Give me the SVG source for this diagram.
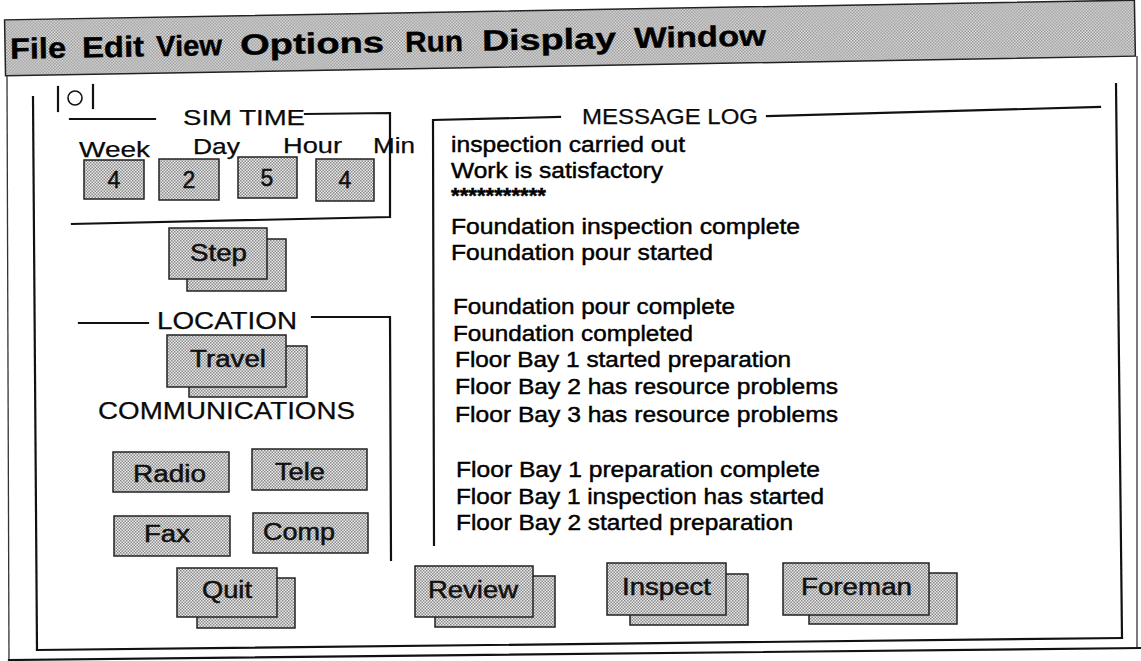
<svg xmlns="http://www.w3.org/2000/svg" width="1141" height="661" viewBox="0 0 1141 661">
<defs>
<pattern id="ht" width="3" height="3" patternUnits="userSpaceOnUse">
<rect width="3" height="3" fill="#ececec"/>
<rect x="0" y="0" width="1.5" height="1.5" fill="#888"/>
<rect x="1.5" y="1.5" width="1.5" height="1.5" fill="#888"/>
</pattern>
<style>
.ln{stroke:#111;stroke-width:2.2;fill:none;stroke-linecap:square}
.thin{stroke:#333;stroke-width:1.3;fill:none}
.btn{fill:url(#ht);stroke:#222;stroke-width:1.5}
.t{font-family:"Liberation Sans",Arial,sans-serif;fill:#0a0a0a;stroke:#0a0a0a;stroke-width:0.25}
.menu{font-family:"Liberation Sans",Arial,sans-serif;font-weight:bold;font-size:29px;fill:#000;stroke:#000;stroke-width:0.4}
.log{font-family:"Liberation Sans",Arial,sans-serif;font-size:22.5px;fill:#000;stroke:#000;stroke-width:0.45}
.bt{font-family:"Liberation Sans",Arial,sans-serif;font-size:23px;fill:#111;stroke:#111;stroke-width:0.5}
</style>
</defs>
<rect width="1141" height="661" fill="#fff"/>

<g id="menubar" transform="rotate(-1 570 40)">
<rect x="5" y="10" width="1130" height="56" class="btn"/>
<text class="menu" x="10" y="49" textLength="56" lengthAdjust="spacingAndGlyphs">File</text>
<text class="menu" x="82" y="49" textLength="62" lengthAdjust="spacingAndGlyphs">Edit</text>
<text class="menu" x="156" y="49" textLength="66" lengthAdjust="spacingAndGlyphs">View</text>
<text class="menu" x="240" y="49" textLength="144" lengthAdjust="spacingAndGlyphs">Options</text>
<text class="menu" x="405" y="49" textLength="58" lengthAdjust="spacingAndGlyphs">Run</text>
<text class="menu" x="482" y="49" textLength="134" lengthAdjust="spacingAndGlyphs">Display</text>
<text class="menu" x="634" y="49" textLength="132" lengthAdjust="spacingAndGlyphs">Window</text>
</g>

<g id="window-frame">
<line class="thin" x1="7" y1="76" x2="9" y2="661"/>
<line class="thin" x1="1137" y1="56" x2="1137" y2="648"/>
<line class="ln" x1="9" y1="660" x2="1141" y2="648"/>
</g>

<g id="panel-frame">
<line class="ln" x1="33" y1="97" x2="37" y2="650"/>
<line class="ln" x1="37" y1="650" x2="1122" y2="638"/>
<line class="ln" x1="1122" y1="638" x2="1116" y2="84"/>
</g>

<g id="icon">
<line class="ln" x1="58" y1="87" x2="58" y2="111"/>
<circle cx="75" cy="98" r="7" fill="none" stroke="#111" stroke-width="1.6"/>
<line class="ln" x1="93" y1="85" x2="93" y2="108"/>
</g>

<g id="simtime">
<line class="ln" x1="70" y1="119" x2="155" y2="119"/>
<text class="t" x="183" y="125" font-size="22" textLength="122" lengthAdjust="spacingAndGlyphs">SIM TIME</text>
<polyline class="ln" points="305,114 390,113 390,217 72,224"/>
<text class="t" x="79" y="157" font-size="22" textLength="71" lengthAdjust="spacingAndGlyphs">Week</text>
<text class="t" x="193" y="154" font-size="22" textLength="47" lengthAdjust="spacingAndGlyphs">Day</text>
<text class="t" x="283" y="153" font-size="22" textLength="59" lengthAdjust="spacingAndGlyphs">Hour</text>
<text class="t" x="373" y="153" font-size="22" textLength="42" lengthAdjust="spacingAndGlyphs">Min</text>
<g id="week-val"><rect class="btn" x="84" y="160" width="60" height="39"/><text class="bt" x="114" y="188" font-size="25" text-anchor="middle">4</text></g>
<g id="day-val"><rect class="btn" x="159" y="159" width="60" height="41"/><text class="bt" x="189" y="188" font-size="25" text-anchor="middle">2</text></g>
<g id="hour-val"><rect class="btn" x="238" y="157" width="59" height="41"/><text class="bt" x="267" y="186" font-size="25" text-anchor="middle">5</text></g>
<g id="min-val"><rect class="btn" x="316" y="159" width="58" height="42"/><text class="bt" x="345" y="188" font-size="25" text-anchor="middle">4</text></g>
</g>

<g id="step-btn">
<rect class="btn" x="187" y="239" width="99" height="52"/>
<rect class="btn" x="169" y="228" width="98" height="51"/>
<text class="bt" x="190" y="261" textLength="57" lengthAdjust="spacingAndGlyphs">Step</text>
</g>

<g id="location">
<line class="ln" x1="79" y1="323" x2="148" y2="323"/>
<text class="t" x="157" y="329" font-size="23" textLength="140" lengthAdjust="spacingAndGlyphs">LOCATION</text>
<polyline class="ln" points="312,317 390,317 391,560"/>
</g>

<g id="travel-btn">
<rect class="btn" x="189" y="346" width="118" height="51"/>
<rect class="btn" x="167" y="335" width="119" height="52"/>
<text class="bt" x="190" y="367" textLength="76" lengthAdjust="spacingAndGlyphs">Travel</text>
</g>

<text id="communications" class="t" x="98" y="419" font-size="24" textLength="257" lengthAdjust="spacingAndGlyphs">COMMUNICATIONS</text>

<g id="radio-btn"><rect class="btn" x="113" y="452" width="116" height="40"/><text class="bt" x="133" y="482" textLength="73" lengthAdjust="spacingAndGlyphs">Radio</text></g>
<g id="tele-btn"><rect class="btn" x="252" y="449" width="115" height="41"/><text class="bt" x="275" y="480" textLength="50" lengthAdjust="spacingAndGlyphs">Tele</text></g>
<g id="fax-btn"><rect class="btn" x="114" y="516" width="116" height="40"/><text class="bt" x="144" y="542" textLength="46" lengthAdjust="spacingAndGlyphs">Fax</text></g>
<g id="comp-btn"><rect class="btn" x="253" y="513" width="115" height="40"/><text class="bt" x="263" y="540" textLength="72" lengthAdjust="spacingAndGlyphs">Comp</text></g>

<g id="quit-btn">
<rect class="btn" x="197" y="578" width="98" height="50"/>
<rect class="btn" x="177" y="568" width="100" height="49"/>
<text class="bt" x="202" y="598" textLength="50" lengthAdjust="spacingAndGlyphs">Quit</text>
</g>

<g id="review-btn">
<rect class="btn" x="435" y="576" width="120" height="51"/>
<rect class="btn" x="415" y="566" width="118" height="51"/>
<text class="bt" x="428" y="598" textLength="90" lengthAdjust="spacingAndGlyphs">Review</text>
</g>
<g id="inspect-btn">
<rect class="btn" x="630" y="574" width="118" height="51"/>
<rect class="btn" x="607" y="563" width="119" height="52"/>
<text class="bt" x="622" y="595" textLength="89" lengthAdjust="spacingAndGlyphs">Inspect</text>
</g>
<g id="foreman-btn">
<rect class="btn" x="809" y="573" width="148" height="51"/>
<rect class="btn" x="783" y="563" width="146" height="52"/>
<text class="bt" x="801" y="595" textLength="111" lengthAdjust="spacingAndGlyphs">Foreman</text>
</g>

<g id="message-log">
<polyline class="ln" points="560,117 433,120 434,545"/>
<text class="t" x="582" y="124" font-size="21.5" textLength="176" lengthAdjust="spacingAndGlyphs">MESSAGE LOG</text>
<line class="ln" x1="767" y1="116" x2="1100" y2="107"/>
<text class="log" x="451" y="152" textLength="234" lengthAdjust="spacingAndGlyphs">inspection carried out</text>
<text class="log" x="451" y="178" textLength="212" lengthAdjust="spacingAndGlyphs">Work is satisfactory</text>
<text class="log" x="451" y="203" font-size="17" font-weight="bold" textLength="95" lengthAdjust="spacingAndGlyphs">***********</text>
<text class="log" x="451" y="234" textLength="349" lengthAdjust="spacingAndGlyphs">Foundation inspection complete</text>
<text class="log" x="451" y="260" textLength="262" lengthAdjust="spacingAndGlyphs">Foundation pour started</text>
<text class="log" x="453" y="314" textLength="282" lengthAdjust="spacingAndGlyphs">Foundation pour complete</text>
<text class="log" x="453" y="341" textLength="240" lengthAdjust="spacingAndGlyphs">Foundation completed</text>
<text class="log" x="455" y="367" textLength="336" lengthAdjust="spacingAndGlyphs">Floor Bay 1 started preparation</text>
<text class="log" x="455" y="394" textLength="383" lengthAdjust="spacingAndGlyphs">Floor Bay 2 has resource problems</text>
<text class="log" x="455" y="422" textLength="383" lengthAdjust="spacingAndGlyphs">Floor Bay 3 has resource problems</text>
<text class="log" x="456" y="477" textLength="364" lengthAdjust="spacingAndGlyphs">Floor Bay 1 preparation complete</text>
<text class="log" x="456" y="504" textLength="368" lengthAdjust="spacingAndGlyphs">Floor Bay 1 inspection has started</text>
<text class="log" x="456" y="530" textLength="337" lengthAdjust="spacingAndGlyphs">Floor Bay 2 started preparation</text>
</g>
</svg>
